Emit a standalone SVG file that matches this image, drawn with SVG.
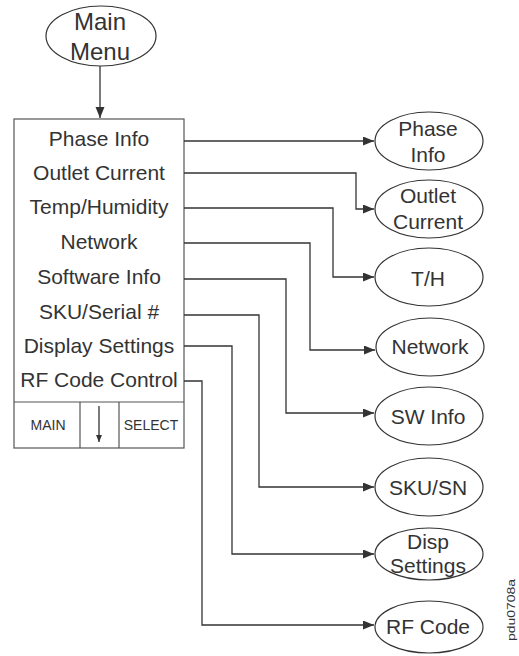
<svg xmlns="http://www.w3.org/2000/svg" width="519" height="656" viewBox="0 0 519 656">
<defs>
<style>
.t{font-family:"Liberation Sans",Arial,sans-serif;fill:#333;text-anchor:middle}
.m{font-size:21px}
.big{font-size:24px}
.s{font-size:14px}
.e{fill:#fff;stroke:#333;stroke-width:1.2}
.c{fill:none;stroke:#333;stroke-width:1.3}
.b{fill:#fff;stroke:#555;stroke-width:1.2}
</style>
<marker id="ah" markerUnits="userSpaceOnUse" markerWidth="12" markerHeight="10" refX="11" refY="4.5" orient="auto">
<path d="M0,0 L11,4.5 L0,9 z" fill="#333"/>
</marker>
<marker id="ahs" markerUnits="userSpaceOnUse" markerWidth="8" markerHeight="8" refX="7" refY="3" orient="auto">
<path d="M0,0 L7,3 L0,6 z" fill="#333"/>
</marker>
</defs>
<rect width="519" height="656" fill="#fff"/>

<g id="main-menu">
<ellipse class="e" cx="101" cy="36" rx="55" ry="30"/>
<text class="t big" x="100" y="30">Main</text>
<text class="t big" x="100" y="60">Menu</text>
</g>

<g id="menu-box">
<rect class="b" x="14" y="119" width="170" height="329"/>
<line class="b" x1="14" y1="402" x2="184" y2="402"/>
<line class="b" x1="80" y1="402" x2="80" y2="448"/>
<line class="b" x1="119" y1="402" x2="119" y2="448"/>
<text class="t m" x="99" y="146">Phase Info</text>
<text class="t m" x="99" y="180">Outlet Current</text>
<text class="t m" x="99" y="214">Temp/Humidity</text>
<text class="t m" x="99" y="249">Network</text>
<text class="t m" x="99" y="284">Software Info</text>
<text class="t m" x="99" y="319">SKU/Serial #</text>
<text class="t m" x="99" y="353">Display Settings</text>
<text class="t m" x="99" y="387">RF Code Control</text>
<text class="t s" x="48" y="430">MAIN</text>
<text class="t s" x="151" y="430">SELECT</text>
<line class="c" x1="99" y1="406" x2="99" y2="442" marker-end="url(#ahs)"/>
</g>

<g id="phase-info">
<ellipse class="e" cx="429" cy="141" rx="54" ry="29"/>
<text class="t m" x="428" y="136">Phase</text>
<text class="t m" x="428" y="162">Info</text>
</g>
<g id="outlet-current">
<ellipse class="e" cx="429" cy="209" rx="54" ry="29"/>
<text class="t m" x="428" y="203">Outlet</text>
<text class="t m" x="428" y="229">Current</text>
</g>
<g id="th">
<ellipse class="e" cx="429" cy="277" rx="54" ry="29"/>
<text class="t m" x="428" y="286">T/H</text>
</g>
<g id="network">
<ellipse class="e" cx="430" cy="347" rx="54" ry="29"/>
<text class="t m" x="430" y="354">Network</text>
</g>
<g id="sw-info">
<ellipse class="e" cx="429" cy="416" rx="54" ry="29"/>
<text class="t m" x="428" y="424">SW Info</text>
</g>
<g id="sku-sn">
<ellipse class="e" cx="429" cy="487" rx="54" ry="29"/>
<text class="t m" x="428" y="495">SKU/SN</text>
</g>
<g id="disp-settings">
<ellipse class="e" cx="429" cy="554" rx="54" ry="26"/>
<text class="t m" x="428" y="549">Disp</text>
<text class="t m" x="428" y="573">Settings</text>
</g>
<g id="rf-code">
<ellipse class="e" cx="429" cy="627" rx="54" ry="26"/>
<text class="t m" x="428" y="634">RF Code</text>
</g>

<g id="connectors">
<line class="c" x1="100" y1="66" x2="100" y2="118" marker-end="url(#ah)"/>
<polyline class="c" points="184,141 374,141" marker-end="url(#ah)"/>
<polyline class="c" points="184,173 356,173 356,209 374,209" marker-end="url(#ah)"/>
<polyline class="c" points="184,208 333,208 333,277 374,277" marker-end="url(#ah)"/>
<polyline class="c" points="184,243 310,243 310,350 375,350" marker-end="url(#ah)"/>
<polyline class="c" points="184,279 286,279 286,413 374,413" marker-end="url(#ah)"/>
<polyline class="c" points="184,315 259,315 259,487 374,487" marker-end="url(#ah)"/>
<polyline class="c" points="184,346 232,346 232,554 374,554" marker-end="url(#ah)"/>
<polyline class="c" points="184,381 202,381 202,625 374,625" marker-end="url(#ah)"/>
</g>

<text class="t" style="font-size:11px" transform="translate(515,610) rotate(-90)" x="0" y="0" textLength="62" lengthAdjust="spacingAndGlyphs">pdu0708a</text>
</svg>
